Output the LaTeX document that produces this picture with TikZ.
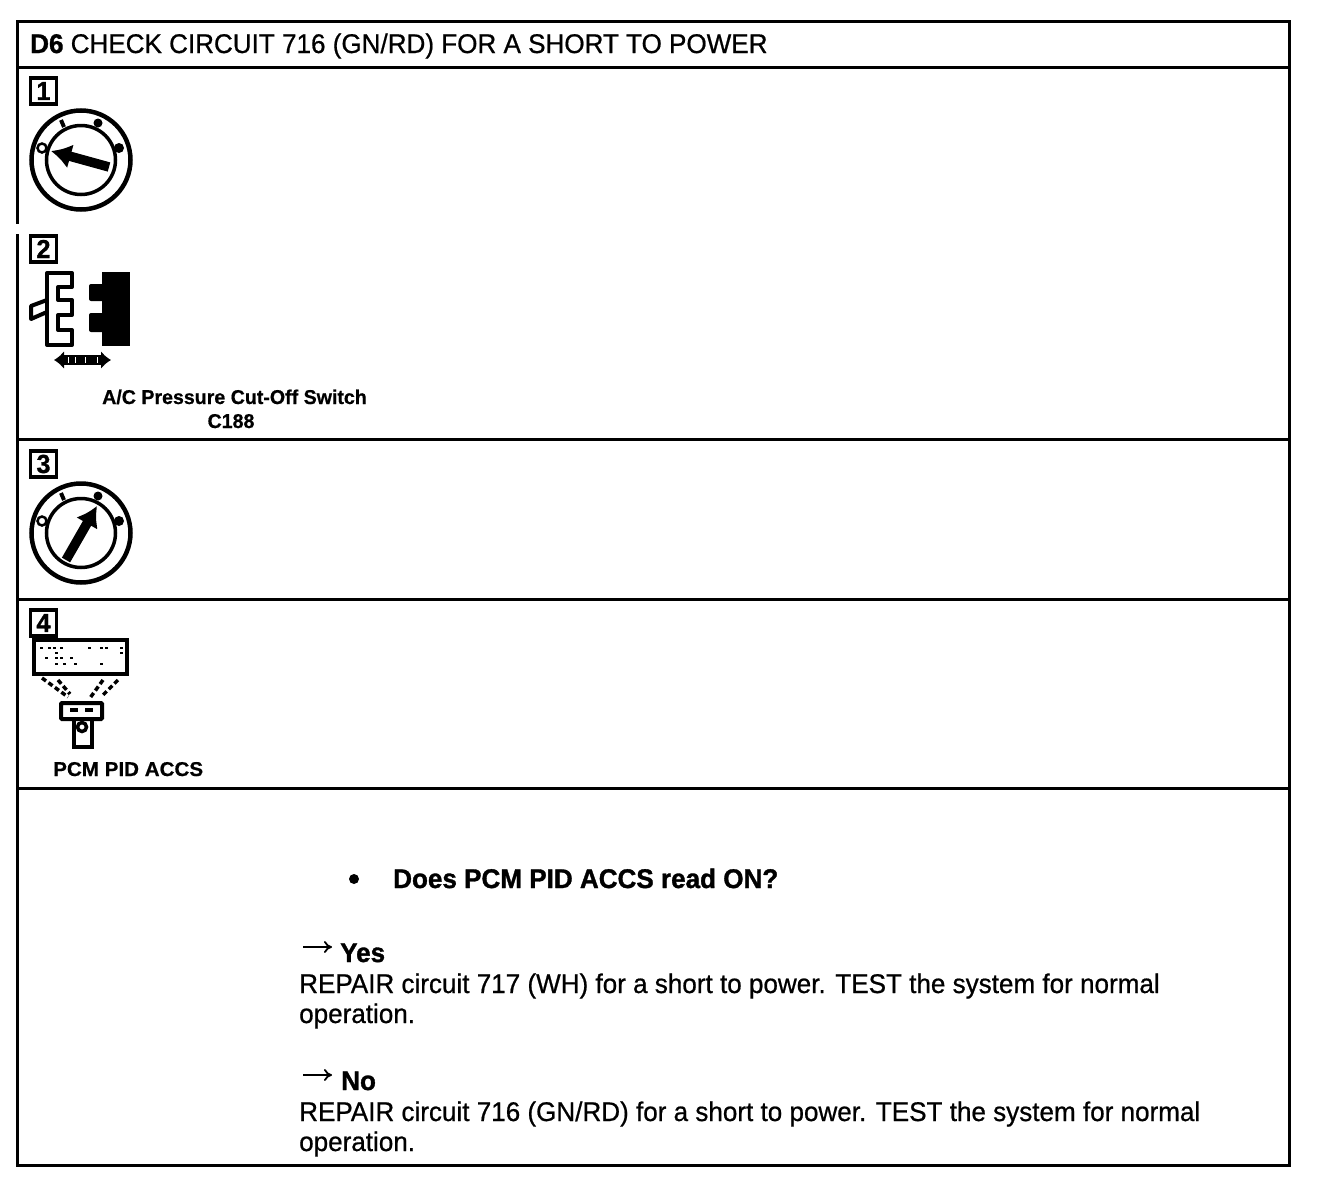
\documentclass[tikz,border=0pt]{standalone}
\usepackage{fontspec}
\setmainfont{Liberation Sans}
\newfontfamily\plainfont[FakeStretch=0.965,FakeBold=0.7]{Liberation Sans}
\newfontfamily\heavyfont[FakeStretch=0.965,FakeBold=1.2]{Liberation Sans Bold}
\newfontfamily\labelfont[FakeStretch=0.98,FakeBold=0.6]{Liberation Sans Bold}
\newfontfamily\pidfont[FakeStretch=1.03,FakeBold=0.6]{Liberation Sans Bold}
\usetikzlibrary{arrows.meta}
\tikzset{
    stepbox/.style={draw, line width=3.2pt, minimum size=26pt, inner sep=0pt, font=\fontsize{26}{26}\heavyfont},
    bodytext/.style={anchor=base west, inner sep=0pt, font=\fontsize{27}{30}\plainfont},
    asktext/.style={anchor=base west, inner sep=0pt, font=\fontsize{27}{30}\heavyfont},
    smalltext/.style={inner sep=0pt, font=\fontsize{20}{22}\labelfont},
    answerarrow/.style={line width=1.8pt, -{To[length=8pt, width=12pt]}},
    rule/.style={line width=3pt},
    keyhand/.style={line width=9.5pt, -{Latex[length=20pt, width=25pt]}},
    viewline/.style={line width=3.5pt, dash pattern=on 5pt off 3pt},
    keydial/.pic={
            \draw[line width=4.5pt] (0,0) circle (49.5);
            \draw[line width=3.5pt] (0,0) circle (34.5);
            \draw[line width=2.5pt, fill=white] (-39,-12) circle (4.5);
            \draw[line width=4pt] (-20,-40) -- (-17,-33);
            \fill (17,-37) circle (4.5);
            \fill (38,-12) circle (5);
        }
}
\begin{document}
\begin{tikzpicture}[x=1pt, y=-1pt]
    \useasboundingbox (0,0) rectangle (1328,1178);
    \fill[white] (0,0) rectangle (1328,1178);

    % table
    \draw[rule] (17,21) rectangle (1289,1165);
    \foreach \y in {67, 439, 599, 788} {
            \draw[rule] (17,\y) -- (1289,\y);
        }
    \draw[line width=3.2pt, white] (17,224) -- (17,234);

    \node[bodytext] (title) at (30,53) {{\heavyfont D6} CHECK CIRCUIT 716 (GN/RD) FOR A SHORT TO POWER};

    % step 1
    \node[stepbox] (stepone) at (43.5,91) {1};
    \pic at (81,160) {keydial};
    \draw[keyhand] (109,167) -- (51,151);

    % step 2
    \node[stepbox] (steptwo) at (43.5,249) {2};
    \draw[line width=4pt, line join=round] (47,273) -- (72,273) -- (72,287) -- (58,287) -- (58,300) -- (72,300) -- (72,315) -- (58,315) -- (58,330) -- (72,330) -- (72,345) -- (47,345) -- cycle;
    \draw[line width=4pt, line join=round] (47,300) -- (31,306) -- (31,319) -- (47,312);
    \fill (102,272) rectangle (130,346);
    \fill[rounded corners=2pt] (89,284) rectangle (104,301);
    \fill[rounded corners=2pt] (89,313) rectangle (104,332);
    \draw[line width=10pt, {Latex[length=10pt, width=18pt]}-{Latex[length=10pt, width=18pt]}] (54,360) -- (111,360);
    \foreach \x in {68, 75, 85, 97} {
            \draw[white, line width=1pt] (\x,357) -- (\x,363);
        }
    \node[smalltext, anchor=base west] (switchname) at (102,404) {A/C Pressure Cut-Off Switch};
    \node[smalltext, anchor=base] (connname) at (231,428) {C188};

    % step 3
    \node[stepbox] (stepthree) at (43.5,464) {3};
    \pic at (81,533) {keydial};
    \draw[keyhand] (66,560) -- (97,506);

    % step 4
    \node[stepbox] (stepfour) at (43.5,623) {4};
    \draw[line width=4.5pt] (34,640) rectangle (127,674);
    \foreach \x/\y in {40/647, 48/647, 53/647, 60/647, 88/647, 100/647, 105/647, 120/647, 55/652, 120/652, 45/657, 55/657, 60/657, 70/657, 55/663, 63/663, 74/663, 100/663} {
            \fill (\x,\y) rectangle ++(2.5,2);
        }
    \draw[viewline] (42,678) -- (68,697);
    \draw[viewline] (58,680) -- (70,694);
    \draw[viewline] (103,680) -- (90,698);
    \draw[viewline] (118,680) -- (103,695);
    \draw[line width=4pt, rounded corners=1pt] (61,703) rectangle (102,719);
    \draw[line width=4pt] (74,719) rectangle (92,747);
    \draw[line width=3.5pt] (70,710) -- (78,710);
    \draw[line width=3.5pt] (85,710) -- (93,710);
    \draw[line width=3.5pt] (82,727) circle (4.5);
    \node[smalltext, font=\fontsize{20}{22}\pidfont, anchor=base west] (pidname) at (53,776) {PCM PID ACCS};

    % question and answers
    \fill (354,879) circle (5);
    \node[asktext] (question) at (393,888) {Does PCM PID ACCS read ON?};
    \coordinate (yesfrom) at (303,947);
    \coordinate (yesto) at (332,947);
    \draw[answerarrow] (yesfrom) -- (yesto);
    \node[asktext] (yes) at (340,962) {Yes};
    \node[bodytext] (yesa) at (299,993) {REPAIR circuit 717 (WH) for a short to power. TEST the system for normal};
    \node[bodytext] (yesb) at (299,1023) {operation.};
    \coordinate (nofrom) at (303,1075);
    \coordinate (noto) at (332,1075);
    \draw[answerarrow] (nofrom) -- (noto);
    \node[asktext] (no) at (341,1090) {No};
    \node[bodytext] (noa) at (299,1121) {REPAIR circuit 716 (GN/RD) for a short to power. TEST the system for normal};
    \node[bodytext] (nob) at (299,1151) {operation.};
\end{tikzpicture}
\end{document}
